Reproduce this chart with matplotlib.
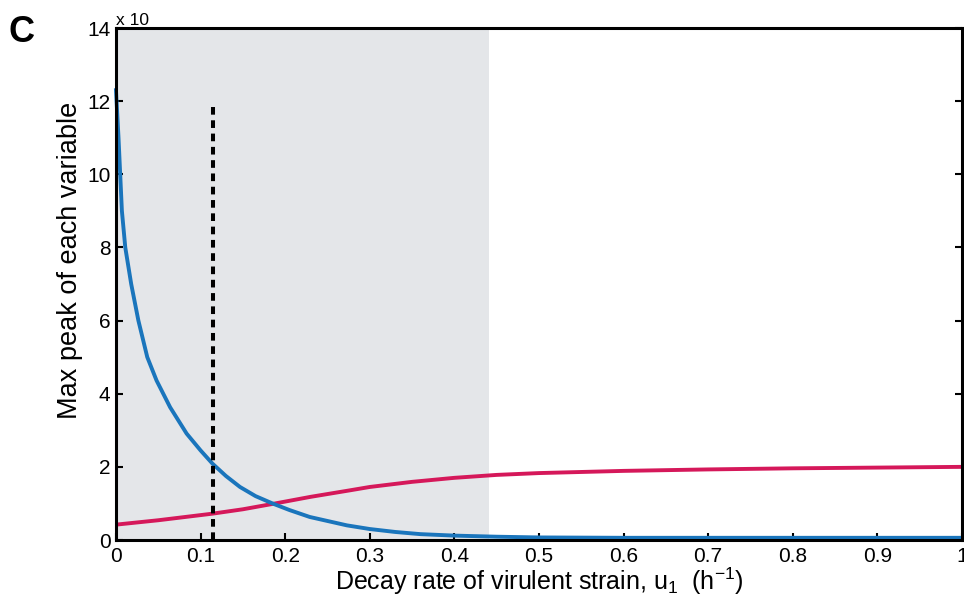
import matplotlib
matplotlib.use("Agg")
import matplotlib.pyplot as plt

plt.rcParams['font.family'] = ['Liberation Sans', 'DejaVu Sans']
plt.rcParams['mathtext.fontset'] = 'custom'
plt.rcParams['mathtext.rm'] = 'Liberation Sans'
plt.rcParams['mathtext.it'] = 'Liberation Sans'

# blue curve (virulent strain peak)
blue_x = [0.0, 0.003, 0.005, 0.007, 0.011, 0.018, 0.0265, 0.037, 0.048, 0.064,
          0.0835, 0.10, 0.114, 0.13, 0.1466, 0.165, 0.186, 0.205, 0.229, 0.25,
          0.273, 0.30, 0.33, 0.36, 0.40, 0.45, 0.50, 0.60, 0.70, 0.80,
          0.90, 1.0]
blue_y = [12.3, 11.0, 10.0, 9.0, 8.0, 7.0, 6.0, 5.0, 4.36, 3.63,
          2.91, 2.45, 2.09, 1.75, 1.45, 1.2, 0.99, 0.82, 0.63, 0.52,
          0.40, 0.30, 0.22, 0.16, 0.12, 0.09, 0.07, 0.06, 0.06, 0.06,
          0.06, 0.06]

# red curve
red_x = [0.0, 0.05, 0.114, 0.15, 0.186, 0.23, 0.277, 0.30, 0.35, 0.40,
         0.45, 0.50, 0.60, 0.70, 0.80, 0.90, 1.0]
red_y = [0.42, 0.54, 0.72, 0.84, 0.99, 1.18, 1.36, 1.45, 1.59, 1.70,
         1.78, 1.83, 1.89, 1.93, 1.96, 1.98, 2.0]

shade_end = 0.441
threshold_x = 0.115
threshold_top = 11.9

x_ticks = [0, 0.1, 0.2, 0.3, 0.4, 0.5, 0.6, 0.7, 0.8, 0.9, 1]
x_labels = ['0', '0.1', '0.2', '0.3', '0.4', '0.5', '0.6', '0.7', '0.8', '0.9', '1']
y_ticks = [0, 2, 4, 6, 8, 10, 12, 14]

fig = plt.figure(figsize=(9.64, 6.0), dpi=100)
ax = fig.add_axes([0.1203, 0.1000, 0.8776, 0.8533])

ax.axvspan(0, shade_end, color='#e4e6e9', zorder=0, lw=0)
ax.plot(red_x, red_y, color='#d5185a', lw=2.8, zorder=3, solid_joinstyle='round')
ax.plot(blue_x, blue_y, color='#1a75bc', lw=2.8, zorder=4, clip_on=False,
        solid_joinstyle='round')
ax.plot([threshold_x, threshold_x], [0, threshold_top], color='black', lw=2.9,
        dashes=(1.9, 1.4), dash_capstyle='butt', zorder=5)

ax.set_xlim(0, 1)
ax.set_ylim(0, 14)
ax.set_xticks(x_ticks)
ax.set_xticklabels(x_labels)
ax.set_yticks(y_ticks)
ax.tick_params(direction='in', length=5, width=1.5, labelsize=15, right=True,
               top=False)
ax.tick_params(axis='x', pad=5)
ax.tick_params(axis='y', pad=4)
for s in ax.spines.values():
    s.set_linewidth(2.2)
    s.set_zorder(6)

ax.set_xlabel('Decay rate of virulent strain, u$_1$  (h$^{-1}$)', fontsize=18, labelpad=0)
ax.set_ylabel('Max peak of each variable', fontsize=19.5)
ax.yaxis.set_label_coords(-0.039, 0.546)

ax.text(0.0, 1.0, 'x 10', transform=ax.transAxes, fontsize=12.5, ha='left', va='bottom')
fig.text(0.022, 0.946, 'C', fontsize=26, fontweight='bold', ha='center', va='center')

fig.savefig('out.png', dpi=100)
